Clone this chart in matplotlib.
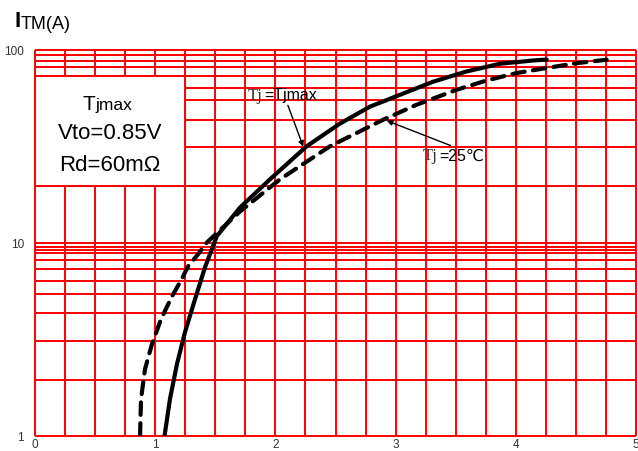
import numpy as np
import matplotlib
matplotlib.use("Agg")
import matplotlib.pyplot as plt
from matplotlib.patches import Rectangle

plt.rcParams['font.family'] = ['Liberation Sans', 'DejaVu Sans', 'Noto Sans CJK SC']

# 曲线数据 (V, A)
v_tjmax = [1.078, 1.123, 1.181, 1.248, 1.331, 1.414, 1.512, 1.705, 1.955, 2.260,
           2.537, 2.787, 3.037, 3.311, 3.586, 3.869, 4.143, 4.257]
i_tjmax = [1.00, 1.55, 2.35, 3.44, 5.09, 7.45, 10.8, 15.2, 21.3, 31.6,
           41.4, 50.7, 58.4, 68.2, 77.0, 84.6, 87.9, 88.9]

v_25 = [0.874, 0.882, 0.915, 0.973, 1.048, 1.140, 1.220, 1.273, 1.356, 1.428,
        1.705, 2.038, 2.454, 2.898, 3.176, 3.508, 3.758, 4.007, 4.257, 4.507, 4.756]
i_25 = [1.00, 1.55, 2.21, 2.98, 4.01, 5.28, 6.46, 7.54, 8.70, 10.0,
        14.5, 21.3, 31.6, 43.4, 51.9, 62.0, 69.3, 75.7, 80.4, 85.2, 88.7]

# 网格线
x_grid = np.arange(0, 5.01, 0.25)
y_major = [1, 10, 100]
y_minor_low = [1.95, 3.1, 4.32, 5.45, 6.33, 7.3, 8.1, 8.8, 9.2, 9.49]
y_minor_high = [19.6, 31.2, 43.4, 54.6, 63.7, 73.2, 81.8, 87.8, 94.3]

x_ticks = [0, 1, 2, 3, 4, 5]
y_ticks = [1, 10, 100]
y_ticklabels = ['1', '10', '100']

fig = plt.figure(figsize=(6.38, 4.52), dpi=100)
ax = fig.add_axes([35 / 638, (452 - 436.7) / 452, 601 / 638, 386 / 452])
ax.set_yscale('log')
ax.set_xlim(0, 5)
ax.set_ylim(1, 100)

red = '#ff0000'
ax.hlines(y_major + y_minor_low + y_minor_high, 0, 5, colors=red, lw=1.4, clip_on=False, zorder=1)
ax.vlines(x_grid, 1, 100, colors=red, lw=1.4, clip_on=False, zorder=1)

# 参数框
ax.add_patch(Rectangle((0, 19.6), 1.25, 73.2 - 19.6, fc='white', ec=red, lw=1.4,
                       zorder=2, clip_on=False))
ax.text(0.499, 49.5, 'T', fontsize=15, ha='right', va='baseline', zorder=3)
ax.text(0.507, 49.5, 'jmax', fontsize=12.5, ha='left', va='baseline', zorder=3)
ax.text(0.624, 35.0, 'Vto=0.85V', fontsize=16, ha='center', va='baseline', zorder=3)
ax.text(0.624, 23.9, 'Rd=60mΩ', fontsize=16, ha='center', va='baseline', zorder=3)

ax.plot(v_tjmax, i_tjmax, color='black', lw=3, solid_capstyle='round', zorder=4)
ax.plot(v_25, i_25, color='black', lw=3, linestyle=(0, (3, 2)), dash_capstyle='round', zorder=4)

# 标注
ax.annotate('', xy=(2.24, 30.5), xytext=(2.096, 53.1),
            arrowprops=dict(arrowstyle='-|>', color='black', lw=1, mutation_scale=8), zorder=5)
ax.text(1.772, 55.7, 'Tj', family='Liberation Serif', fontsize=12, color='#333333',
        ha='left', va='baseline', zorder=5)
ax.text(1.905, 55.7, '=Tjmax', fontsize=11.5, ha='left', va='baseline', zorder=5)

ax.annotate('', xy=(2.905, 43.4), xytext=(3.478, 31.5),
            arrowprops=dict(arrowstyle='-|>', color='black', lw=1, mutation_scale=8), zorder=5)
ax.text(3.228, 27.0, 'Tj', family='Liberation Serif', fontsize=12, color='#333333',
        ha='left', va='baseline', zorder=5)
ax.text(3.36, 27.0, '=25℃', family=['Liberation Sans', 'DejaVu Sans', 'Noto Sans CJK SC'],
        fontsize=11.5, ha='left', va='baseline', zorder=5)

ax.set_xticks(x_ticks)
ax.set_xticklabels([str(t) for t in x_ticks])
ax.set_yticks(y_ticks)
ax.set_yticklabels(y_ticklabels)
ax.yaxis.set_minor_locator(matplotlib.ticker.NullLocator())
ax.tick_params(length=0, labelsize=8.5, labelcolor='#333333')
ax.tick_params(axis='x', pad=2)
ax.tick_params(axis='y', pad=8)
for s in ax.spines.values():
    s.set_visible(False)

# 纵轴标题
fig.text(14 / 638, (452 - 26.7) / 452, 'I', fontsize=16, fontweight='bold', va='baseline')
fig.text(21 / 638, (452 - 29.3) / 452, 'TM(A)', fontsize=13, va='baseline')

fig.savefig('out.png', dpi=100)
